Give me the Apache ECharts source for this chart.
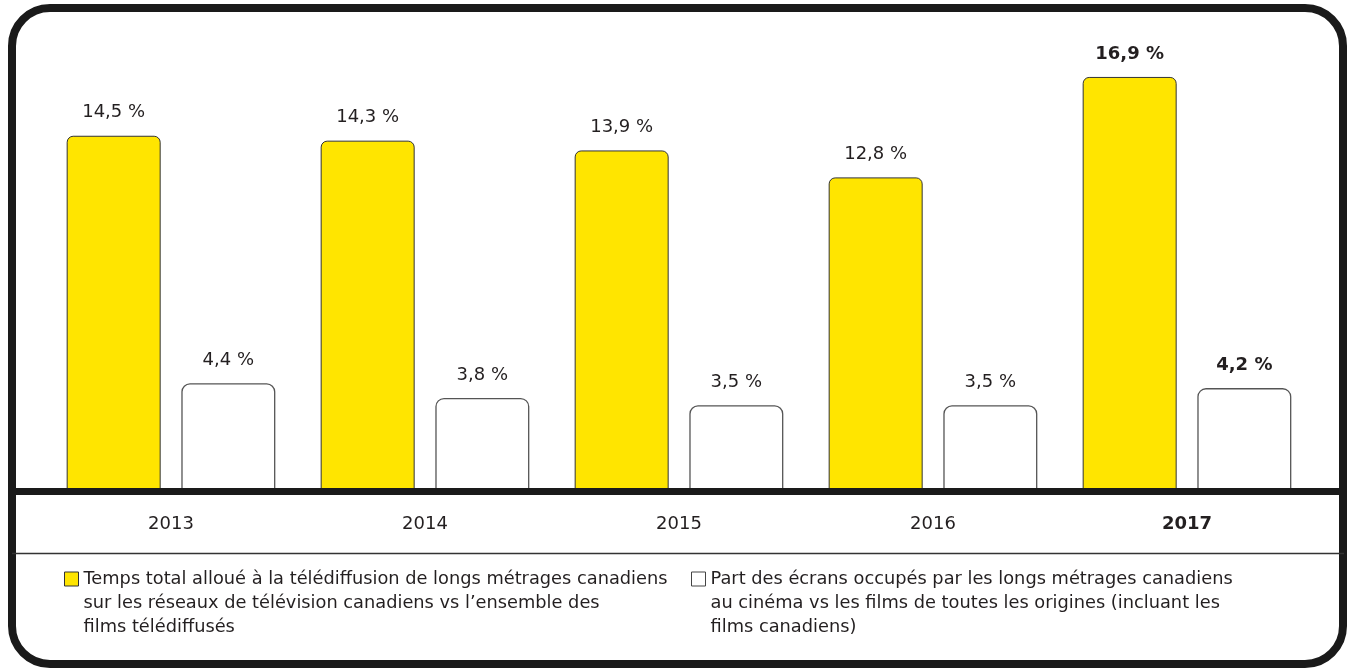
<!DOCTYPE html>
<html>
<head>
<meta charset="utf-8">
<script src="https://cdn.jsdelivr.net/npm/echarts@6/dist/echarts.min.js"></script>
<style>
	html, body { margin: 0; padding: 0; background: #fff; }
	#chart { width: 1353px; height: 671px; }
</style>
</head>
<body>
<div id="chart"></div>
<script>
	var years = ['2013', '2014', '2015', '2016', '2017'];
	var tvShare = [14.5, 14.3, 13.9, 12.8, 16.9];
	var cinemaShare = [4.4, 3.8, 3.5, 3.5, 4.2];
	var tvLines = [
		'Temps total alloué à la télédiffusion de longs métrages canadiens',
		'sur les réseaux de télévision canadiens vs l’ensemble des',
		'films télédiffusés'
	];
	var cinemaLines = [
		'Part des écrans occupés par les longs métrages canadiens',
		'au cinéma vs les films de toutes les origines (incluant les',
		'films canadiens)'
	];
	var tvName = tvLines.join(' ');
	var cinemaName = cinemaLines.join(' ');
	var highlightIndex = 4; // 2017 en gras

	var ink = '#231f20';
	var font = '"DejaVu Sans", "Liberation Sans", Arial, sans-serif';

	function pct (v) {
		return v.toFixed(1).replace('.', ',') + ' %';
	}
	function barLabel (p) {
		return (p.dataIndex === highlightIndex ? '{b|' : '{n|') + pct(p.value) + '}';
	}
	var labelRich = {
		n: { fontSize: 18, color: ink, fontFamily: font },
		b: { fontSize: 18, color: ink, fontFamily: font, fontWeight: 'bold' }
	};
	function legendText (name) {
		return (name === tvName ? tvLines : cinemaLines).join('\n');
	}
	var legendTextStyle = {
		fontSize: 17.8,
		lineHeight: 24,
		color: ink,
		fontFamily: font
	};
	// carré en haut d'une boîte haute : l'icône s'aligne sur la 1re ligne du texte
	var squareIcon = 'path://M0,0L14,0L14,14L0,14Z M0,62L0,62';

	var chart = echarts.init(document.getElementById('chart'));
	var option = {
		backgroundColor: '#fff',
		animation: false,
		grid: {
			left: 44,
			right: 39,
			top: 50,
			bottom: 180
		},
		xAxis: {
			type: 'category',
			data: years,
			axisLine: { show: false },
			axisTick: { show: false },
			axisLabel: {
				margin: 24,
				fontSize: 18,
				color: ink,
				fontFamily: font,
				formatter: function (v, i) {
					return i === highlightIndex ? '{b|' + v + '}' : '{n|' + v + '}';
				},
				rich: labelRich
			}
		},
		yAxis: {
			type: 'value',
			min: 0,
			max: 18,
			show: false,
			splitLine: { show: false }
		},
		legend: [
			{
				left: 59,
				top: 562,
				itemWidth: 14,
				itemHeight: 62,
				data: [{ name: tvName, icon: squareIcon, itemStyle: { color: '#ffe500', borderColor: '#333', borderWidth: 1 } }],
				formatter: legendText,
				textStyle: legendTextStyle
			},
			{
				left: 686,
				top: 562,
				itemWidth: 14,
				itemHeight: 62,
				data: [{ name: cinemaName, icon: squareIcon, itemStyle: { color: '#fff', borderColor: '#444', borderWidth: 1 } }],
				formatter: legendText,
				textStyle: legendTextStyle
			}
		],
		series: [
			{
				name: tvName,
				type: 'bar',
				data: tvShare,
				barWidth: 94,
				barGap: '22%',
				itemStyle: {
					color: '#ffe500',
					borderColor: '#333',
					borderWidth: 1,
					borderRadius: [6, 6, 0, 0]
				},
				label: {
					show: true,
					position: 'top',
					distance: 14,
					formatter: barLabel,
					rich: labelRich
				}
			},
			{
				name: cinemaName,
				type: 'bar',
				data: cinemaShare,
				barWidth: 94,
				itemStyle: {
					color: '#fff',
					borderColor: '#555',
					borderWidth: 1.3,
					borderRadius: [8, 8, 0, 0]
				},
				label: {
					show: true,
					position: 'top',
					distance: 14,
					formatter: barLabel,
					rich: labelRich
				}
			}
		],
		graphic: [
			{
				type: 'rect',
				z: 100,
				silent: true,
				shape: { x: 12, y: 8, width: 1331, height: 656, r: 38 },
				style: { fill: 'none', stroke: '#1a1a1a', lineWidth: 8 }
			},
			{
				type: 'line',
				z: 100,
				silent: true,
				shape: { x1: 10, y1: 491.5, x2: 1345, y2: 491.5 },
				style: { stroke: '#1a1a1a', lineWidth: 7 }
			},
			{
				type: 'line',
				z: 100,
				silent: true,
				shape: { x1: 12, y1: 553.5, x2: 1344, y2: 553.5 },
				style: { stroke: '#333', lineWidth: 1.5 }
			}
		]
	};
	chart.setOption(option);
</script>
</body>
</html>
